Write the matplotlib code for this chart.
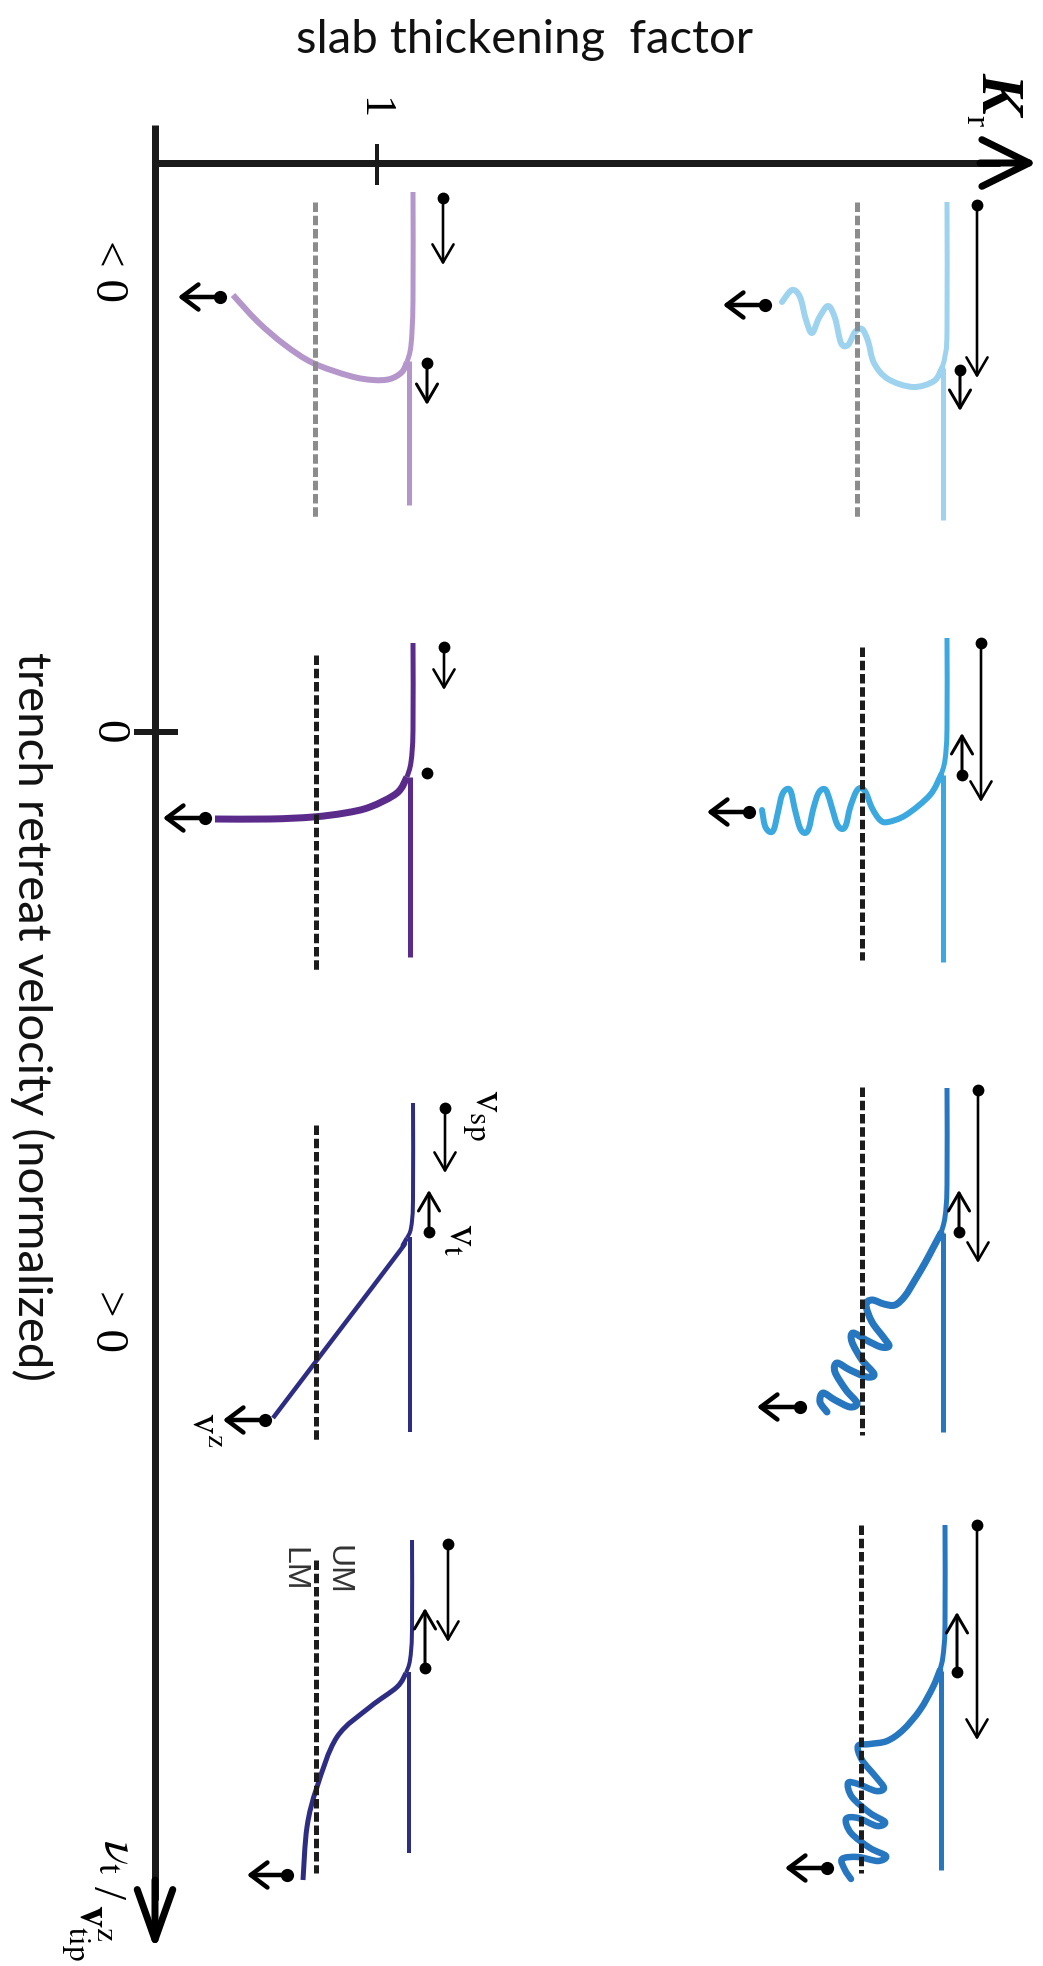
import numpy as np
import matplotlib.pyplot as plt
from matplotlib.path import Path
from matplotlib.patches import PathPatch

W, H = 1043, 1966
PT = 0.72  # points per pixel at dpi 100

plt.rcParams['mathtext.fontset'] = 'stix'

# ---- panel data (pixel positions in the rotated sketch) ----
# order: left column top->bottom, right column top->bottom
slab_colors = ['#b596ca', '#5b2b8c', '#2e2d84', '#2e2d84',
               '#9dd3ef', '#3ba8e0', '#2677bf', '#2677bf']
dash_colors = ['#8c8c8c', '#1c1c1c', '#1c1c1c', '#1c1c1c',
               '#8c8c8c', '#1c1c1c', '#1c1c1c', '#1c1c1c']
dash_x = [315, 316, 316, 316, 857, 862, 862, 861]
dash_y0 = [202, 655, 1125, 1560, 202, 647, 1087, 1525]
dash_y1 = [517, 970, 1440, 1873, 517, 960, 1435, 1873]

over_x = [409, 410, 410, 409, 943, 943, 943, 941]
over_y0 = [361, 777, 1237, 1672, 368, 775, 1233, 1671]
over_y1 = [505, 957, 1432, 1853, 520, 962, 1432, 1870]

surf_lw = [5, 5, 4, 4, 5, 5, 5, 5]
slab_lw = [6, 7, 4.5, 5, 6, 6, 7, 6.5]

surf_L1 = [(413, 192), (413, 300), (411, 345), (407, 362)]
surf_L2 = [(413, 643), (413, 730), (411, 762), (407, 777)]
surf_L3 = [(413, 1103), (413, 1200), (411, 1228), (407, 1238)]
surf_L4 = [(412, 1540), (412, 1630), (410, 1660), (406, 1673)]
surf_R1 = [(947, 202), (947, 330), (945, 356), (942, 368)]
surf_R2 = [(947, 638), (947, 728), (945, 760), (941, 775)]
surf_R3 = [(947, 1088), (947, 1185), (945, 1217), (941, 1233)]
surf_R4 = [(945, 1525), (945, 1625), (943, 1656), (940, 1670)]

slab_L1 = [(407, 362), (402, 372), (390, 379), (373, 380), (350, 376),
           (313, 363), (285, 345), (258, 322), (233, 295)]
slab_L2 = [(407, 777), (397, 793), (370, 807), (345, 813), (313, 817),
           (270, 819), (215, 819)]
slab_L3 = [(407, 1238), (403, 1245), (399, 1252), (336, 1335), (273, 1418)]
slab_L4 = [(406, 1673), (397, 1687), (370, 1707), (337, 1737), (317, 1787),
           (307, 1827), (303, 1880)]
slab_R1 = [(942, 368), (934, 381), (913, 387), (888, 379), (874, 363),
           (868, 341), (862, 329), (855, 332), (848, 345), (841, 343),
           (835, 318), (828, 306), (819, 318), (812, 333), (806, 320),
           (800, 297), (792, 290), (782, 302)]
slab_R2 = [(941, 775), (930, 795), (906, 815), (888, 822), (880, 820),
           (872, 808), (866, 793), (861, 788), (856, 792), (850, 808),
           (846, 825), (842, 829), (837, 824), (832, 808), (827, 792),
           (823, 789), (818, 794), (813, 810), (809, 828), (805, 833),
           (800, 828), (795, 810), (791, 792), (787, 789), (782, 795),
           (778, 812), (774, 829), (770, 832), (765, 826), (762, 810)]
slab_R3 = [(941, 1233), (933, 1248), (925, 1263), (915, 1280), (905, 1296),
           (895, 1305), (884, 1304), (872, 1300), (866, 1305), (872, 1322),
           (884, 1338), (889, 1346), (881, 1347), (866, 1340), (853, 1333),
           (852, 1342), (862, 1360), (874, 1374), (867, 1377), (850, 1370),
           (837, 1363), (835, 1372), (846, 1390), (857, 1403), (850, 1407),
           (835, 1400), (823, 1393), (820, 1402), (827, 1412)]
slab_R4 = [(940, 1670), (933, 1687), (920, 1710), (903, 1730), (887, 1741),
           (870, 1744), (858, 1746), (862, 1760), (876, 1777), (884, 1788),
           (876, 1791), (858, 1784), (848, 1783), (852, 1797), (870, 1813),
           (885, 1822), (877, 1826), (858, 1818), (846, 1819), (851, 1833),
           (870, 1848), (886, 1856), (878, 1861), (858, 1857), (842, 1859),
           (845, 1870), (851, 1879)]

surfaces = [surf_L1, surf_L2, surf_L3, surf_L4, surf_R1, surf_R2, surf_R3, surf_R4]
slabs = [slab_L1, slab_L2, slab_L3, slab_L4, slab_R1, slab_R2, slab_R3, slab_R4]

# velocity arrows: dot position -> arrow tip
vsp_start = [(443, 198), (444, 647), (445, 1108), (448, 1544),
             (977, 205), (981, 643), (978, 1090), (977, 1525)]
vsp_end = [(443, 265), (444, 690), (445, 1173), (448, 1642),
           (977, 378), (981, 802), (978, 1263), (977, 1740)]
vt_start = [(427, 363), (427, 773), (429, 1232), (425, 1668),
            (960, 370), (962, 775), (959, 1232), (957, 1672)]
vt_end = [(427, 405), None, (429, 1190), (425, 1608),
          (960, 411), (962, 733), (959, 1190), (957, 1612)]
tip_start = [(220, 297), (205, 818), (265, 1420), (287, 1875),
             (765, 305), (749, 812), (800, 1407), (827, 1868)]
tip_end = [(178, 297), (163, 818), (223, 1420), (247, 1875),
           (723, 305), (707, 812), (757, 1407), (785, 1868)]


def smooth_path(pts):
    """Catmull-Rom curve through the traced points as a cubic bezier path."""
    p = np.asarray(pts, float)
    ext = np.vstack([p[0], p, p[-1]])
    verts = [p[0]]
    codes = [Path.MOVETO]
    for i in range(1, len(ext) - 2):
        p0, p1, p2, p3 = ext[i - 1], ext[i], ext[i + 1], ext[i + 2]
        verts += [p1 + (p2 - p0) / 6, p2 - (p3 - p1) / 6, p2]
        codes += [Path.CURVE4] * 3
    return Path(verts, codes)


def draw_curve(ax, pts, color, lw_px, cap='butt'):
    ax.add_patch(PathPatch(smooth_path(pts), fill=False, edgecolor=color,
                           lw=lw_px * PT, capstyle=cap, joinstyle='round'))


def arrow(ax, start, end, lw_px, ms, hl, hw, scale=20, dot=True):
    ax.annotate('', xy=end, xytext=start,
                arrowprops=dict(arrowstyle=f'->,head_length={hl},head_width={hw}',
                                lw=lw_px * PT, color='black', shrinkA=0, shrinkB=0,
                                mutation_scale=scale))
    if dot:
        ax.plot(start[0], start[1], 'o', color='black', ms=ms, mec='none')


fig = plt.figure(figsize=(W / 100, H / 100), dpi=100)
ax = fig.add_axes([0, 0, 1, 1])
ax.set_xlim(0, W)
ax.set_ylim(H, 0)
ax.axis('off')

# ---- axes ----
ax.plot([155, 155], [125, 1900], color='#1a1a1a', lw=7 * PT, solid_capstyle='butt')
arrow(ax, (155, 1880), (155, 1950), 7, 0, 0.9, 0.32, scale=40, dot=False)
ax.plot([155, 1000], [163, 163], color='#1a1a1a', lw=7 * PT, solid_capstyle='butt')
arrow(ax, (980, 163), (1037, 163), 7, 0, 0.85, 0.42, scale=40, dot=False)
ax.plot([377, 377], [146, 183], color='#1a1a1a', lw=4 * PT)
ax.plot([137, 175], [732, 732], color='#1a1a1a', lw=6 * PT)

serif = 'Liberation Serif'
ax.text(373, 108, '1', rotation=-90, ha='center', va='center', fontsize=32, family=serif)
ax.text(107, 271, '< 0', rotation=-90, ha='center', va='center', fontsize=34, family=serif)
ax.text(107, 732, '0', rotation=-90, ha='center', va='center', fontsize=34, family=serif)
ax.text(107, 1321, '> 0', rotation=-90, ha='center', va='center', fontsize=34, family=serif)
ax.text(997, 92, 'K', rotation=-90, ha='center', va='center', fontsize=44,
        family=serif, style='italic', weight='bold')
ax.text(975, 121, 'r', rotation=-90, ha='center', va='center', fontsize=24, family=serif)

plain = ['Lato', 'DejaVu Sans']
ax.text(525, 40, 'slab thickening  factor', ha='center', va='center',
        fontsize=34, family=plain, color='#111111')
ax.text(32, 1017, 'trench retreat velocity (normalized)', rotation=-90,
        ha='center', va='center', fontsize=34, family=plain, color='#111111')

ax.text(120, 1857, r'$\nu_{\mathrm{t}}$', rotation=-90, ha='center', va='center', fontsize=36)
ax.text(105, 1893, '/', rotation=-90, ha='center', va='center', fontsize=34, family=serif)
ax.text(86, 1932, r'$\mathbf{v}^{\mathrm{z}}_{\mathrm{tip}}$', rotation=-90,
        ha='center', va='center', fontsize=32)

# ---- panels ----
for i in range(8):
    ax.plot([dash_x[i], dash_x[i]], [dash_y0[i], dash_y1[i]], color=dash_colors[i],
            lw=5 * PT, ls=(0, (1.9, 0.75)), solid_capstyle='butt', dash_capstyle='butt')
    c = slab_colors[i]
    draw_curve(ax, surfaces[i], c, surf_lw[i])
    ax.plot([over_x[i], over_x[i]], [over_y0[i], over_y1[i]], color=c,
            lw=surf_lw[i] * PT, solid_capstyle='butt')
    draw_curve(ax, slabs[i], c, slab_lw[i], cap='round' if i >= 4 else 'butt')

    arrow(ax, vsp_start[i], vsp_end[i], 2.6, 8.5, 0.65, 0.38)
    if vt_end[i] is not None:
        arrow(ax, vt_start[i], vt_end[i], 3, 8.5, 0.65, 0.38)
    else:
        ax.plot(*vt_start[i], 'o', color='black', ms=8.5, mec='none')
    arrow(ax, tip_start[i], tip_end[i], 4.5, 9.5, 0.6, 0.45)

# labels in the reference panel
ax.text(481, 1115, r'$\mathrm{v}_{\mathrm{sp}}$', rotation=-90, ha='center', va='center', fontsize=32)
ax.text(462, 1240, r'$\mathrm{v}_{\mathrm{t}}$', rotation=-90, ha='center', va='center', fontsize=32)
ax.text(205, 1430, r'$\mathrm{v}^{\mathrm{z}}$', rotation=-90, ha='center', va='center', fontsize=30)
ax.text(338, 1570, 'UM', rotation=-90, ha='center', va='center', fontsize=23,
        family='Liberation Sans', color='#333333')
ax.text(293, 1569, 'LM', rotation=-90, ha='center', va='center', fontsize=23,
        family='Liberation Sans', color='#333333')

fig.savefig('out.png', dpi=100)
